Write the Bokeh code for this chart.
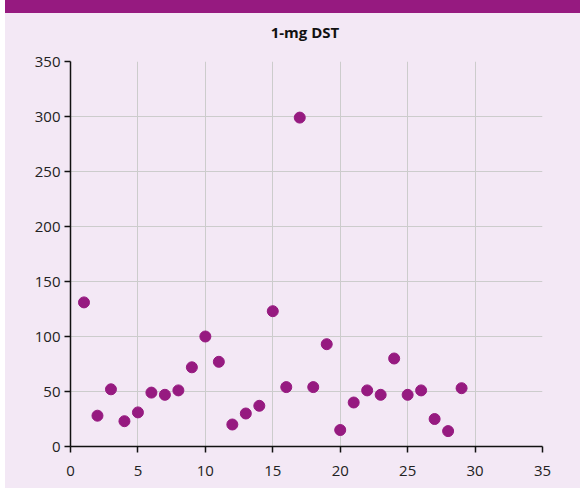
from bokeh.plotting import figure
from bokeh.models import Range1d, SingleIntervalTicker, ColumnDataSource, Div
from bokeh.layouts import column
from bokeh.embed import file_html
from bokeh.resources import INLINE

# Data
patient = [1, 2, 3, 4, 5, 6, 7, 8, 9, 10, 11, 12, 13, 14, 15, 16, 17, 18, 19, 20,
           21, 22, 23, 24, 25, 26, 27, 28, 29]
dst_value = [131, 28, 52, 23, 31, 49, 47, 51, 72, 100, 77, 20, 30, 37, 123, 54, 299,
             54, 93, 15, 40, 51, 47, 80, 47, 51, 25, 14, 53]
title_text = "1-mg DST"

PURPLE = "#961a80"
BG = "#f3e8f5"
FONT = "Open Sans"

banner = Div(text="", width=575, height=13, margin=(0, 0, 0, 0),
             styles={"background-color": PURPLE})

title_div = Div(
    text=('<div style="width:550px;margin-left:25px;text-align:center;'
          'line-height:38px;font-family:\'Open Sans\';font-size:15px;'
          'font-weight:bold;color:#111111;">' + title_text + '</div>'),
    width=575, height=38, margin=(0, 0, 0, 0),
    styles={"background-color": BG})

p = figure(width=575, height=437, output_backend="svg", toolbar_location=None,
           x_range=Range1d(0, 35), y_range=Range1d(0, 350), margin=(0, 0, 0, 0),
           min_border_left=65, min_border_right=38, min_border_top=10, min_border_bottom=42)
p.background_fill_color = BG
p.border_fill_color = BG
p.outline_line_color = None

src = ColumnDataSource(dict(x=patient, y=dst_value))
p.scatter("x", "y", source=src, size=11, fill_color=PURPLE, line_color=PURPLE)

p.xaxis.ticker = SingleIntervalTicker(interval=5)
p.yaxis.ticker = SingleIntervalTicker(interval=50)
for ax in (p.xaxis, p.yaxis):
    ax.axis_line_color = "#111111"
    ax.axis_line_width = 1.5
    ax.major_tick_line_color = "#111111"
    ax.major_tick_line_width = 1.5
    ax.major_tick_in = 0
    ax.major_tick_out = 6
    ax.minor_tick_line_color = None
    ax.major_label_text_font = FONT
    ax.major_label_text_font_size = "15px"
    ax.major_label_text_color = "#222222"
p.xaxis.major_label_standoff = 13
p.yaxis.major_label_standoff = 4

p.grid.grid_line_color = "#cccccc"
p.grid.grid_line_width = 1

layout = column(banner, title_div, p, spacing=0, margin=(0, 0, 0, 5),
                styles={"background-color": BG})

open("out.html", "w").write(file_html(layout, INLINE))
